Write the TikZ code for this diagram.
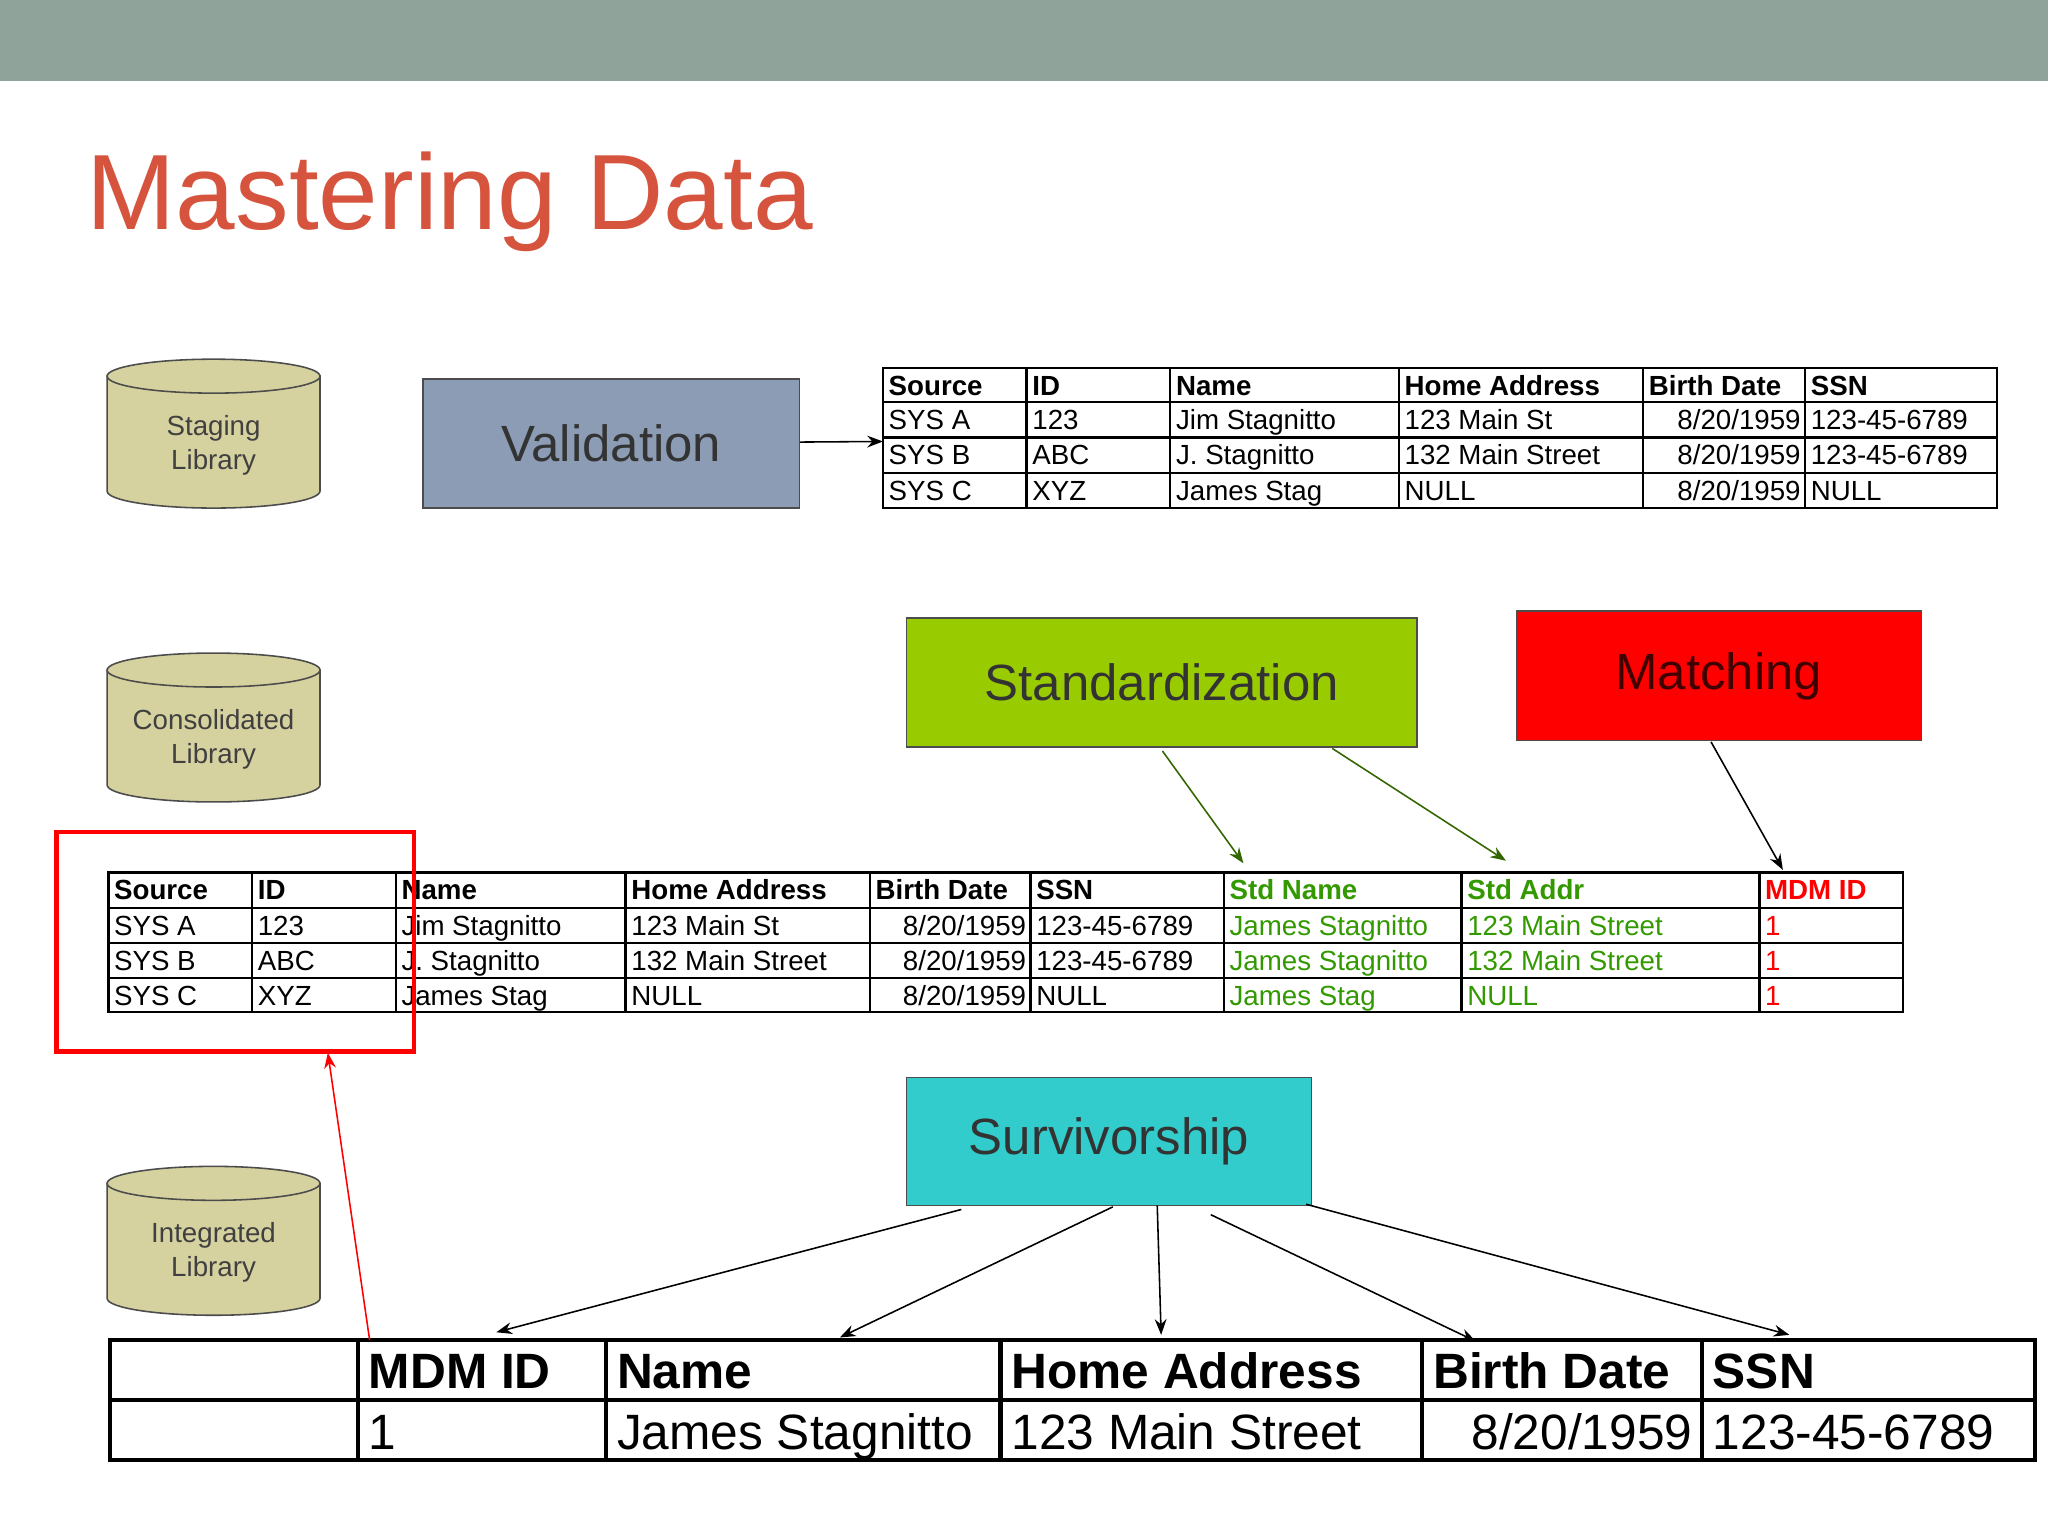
\documentclass[tikz,border=0pt]{standalone}
\usepackage{fontspec}
\setmainfont{Liberation Sans}
\usetikzlibrary{arrows.meta}
\definecolor{band}{RGB}{143,163,154}
\definecolor{titlered}{RGB}{214,84,62}
\definecolor{khaki}{RGB}{214,210,160}
\definecolor{slate}{RGB}{140,156,181}
\definecolor{lime}{RGB}{153,204,0}
\definecolor{aqua}{RGB}{51,204,204}
\definecolor{stdgreen}{RGB}{51,153,0}
\definecolor{arrgreen}{RGB}{51,102,0}
\tikzset{
  cell/.style={anchor=base west, inner sep=0pt, yshift=-4pt, font=\fontsize{10.6}{13}\selectfont},
  rcell/.style={anchor=base east, inner sep=0pt, yshift=-4pt, font=\fontsize{10.6}{13}\selectfont},
  big/.style={anchor=base west, inner sep=0pt, yshift=-7pt, font=\fontsize{19}{23}\selectfont},
  rbig/.style={anchor=base east, inner sep=0pt, yshift=-7pt, font=\fontsize{19}{23}\selectfont},
  procbox/.style={draw=black!70, line width=0.6pt, inner sep=0pt, font=\fontsize{19.5}{24}\selectfont},
  arr/.style={-{Stealth[length=6pt,width=4.5pt]}, line width=0.6pt},
  cyl/.style={draw=black!70, fill=khaki, line width=0.6pt}
}
\begin{document}
\begin{tikzpicture}[x=0.5pt,y=0.5pt,yscale=-1]
\useasboundingbox (0,0) rectangle (1568,1176);
\fill[white] (0,0) rectangle (1568,1176);
\fill[band] (0,0) rectangle (1568,62);
\node[anchor=base west, inner sep=0pt, text=titlered, font=\fontsize{41}{46}\selectfont] (title) at (66,176) {Mastering Data};

% cylinders
\foreach \t/\n/\lab in {288/stg/{Staging\\Library}, 513/con/{Consolidated\\Library}, 906/int/{Integrated\\Library}}{
  \filldraw[cyl] (82,\t) -- (82,\t+88) arc (180:0:81.5 and 13) -- (245,\t) -- cycle;
  \filldraw[cyl] (163.5,\t) ellipse (81.5 and 13);
  \node[align=center, text=black!75, font=\fontsize{10.6}{13}\selectfont] (\n) at (163.5,\t+53) {\lab};
}

% process boxes
\node[procbox, fill=slate, text=black!80, minimum width=144pt, minimum height=49.5pt] (val) at (468,339.5) {Validation};
\node[procbox, fill=lime, text=black!80, minimum width=195.5pt, minimum height=49.5pt] (std) at (889.5,522.5) {Standardization};
\node[procbox, fill=red, text=black!75!red, minimum width=155pt, minimum height=49.5pt] (mat) at (1316,517.5) {Matching};
\node[procbox, fill=aqua, text=black!80, minimum width=155pt, minimum height=49pt] (sur) at (849,874) {Survivorship};

% top table
\draw[line width=0.9pt] (676,282) rectangle (1529,389);
\foreach \y in {308,335,362} \draw[line width=0.9pt] (676,\y) -- (1529,\y);
\foreach \x in {786,896,1071,1258,1382} \draw[line width=0.9pt] (\x,282) -- (\x,389);
\foreach \x/\txt [count=\i] in {680/Source,790/ID,900/Name,1075/Home Address,1262/Birth Date,1386/SSN}
  \node[cell, font=\fontsize{10.6}{13}\selectfont\bfseries] (ta\i) at (\x,295) {\txt};
\foreach \y/\a/\b/\c/\d/\e [count=\r] in {321/SYS A/123/Jim Stagnitto/123 Main St/123-45-6789,
  348/SYS B/ABC/J. Stagnitto/132 Main Street/123-45-6789, 375/SYS C/XYZ/James Stag/NULL/NULL}{
  \node[cell] (tb\r a) at (680,\y) {\a};
  \node[cell] (tb\r b) at (790,\y) {\b};
  \node[cell] (tb\r c) at (900,\y) {\c};
  \node[cell] (tb\r d) at (1075,\y) {\d};
  \node[rcell] (tb\r e) at (1379,\y) {8/20/1959};
  \node[cell] (tb\r f) at (1386,\y) {\e};
}
\coordinate (vt) at (676,338);
\draw[arr] (val) -- (vt);

% middle table
\draw[line width=0.9pt] (83,668) rectangle (1457,775);
\foreach \y in {695,722,749} \draw[line width=0.9pt] (83,\y) -- (1457,\y);
\foreach \x in {193,303,479,666,789,937,1119,1347} \draw[line width=0.9pt] (\x,668) -- (\x,775);
\foreach \x/\txt [count=\i] in {87/Source,197/ID,307/Name,483/Home Address,670/Birth Date,793/SSN}
  \node[cell, font=\fontsize{10.6}{13}\selectfont\bfseries] (ma\i) at (\x,681) {\txt};
\node[cell, text=stdgreen, font=\fontsize{10.6}{13}\selectfont\bfseries] (ma7) at (941,681) {Std Name};
\node[cell, text=stdgreen, font=\fontsize{10.6}{13}\selectfont\bfseries] (ma8) at (1123,681) {Std Addr};
\node[cell, text=red, font=\fontsize{10.6}{13}\selectfont\bfseries] (ma9) at (1351,681) {MDM ID};
\foreach \y/\a/\b/\c/\d/\e/\f/\g [count=\r] in {708/SYS A/123/Jim Stagnitto/123 Main St/123-45-6789/James Stagnitto/123 Main Street,
  735/SYS B/ABC/J. Stagnitto/132 Main Street/123-45-6789/James Stagnitto/132 Main Street,
  762/SYS C/XYZ/James Stag/NULL/NULL/James Stag/NULL}{
  \node[cell] (mb\r a) at (87,\y) {\a};
  \node[cell] (mb\r b) at (197,\y) {\b};
  \node[cell] (mb\r c) at (307,\y) {\c};
  \node[cell] (mb\r d) at (483,\y) {\d};
  \node[rcell] (mb\r e) at (786,\y) {8/20/1959};
  \node[cell] (mb\r f) at (793,\y) {\e};
  \node[cell, text=stdgreen] (mb\r g) at (941,\y) {\f};
  \node[cell, text=stdgreen] (mb\r h) at (1123,\y) {\g};
  \node[cell, text=red] (mb\r i) at (1351,\y) {1};
}
\draw[red, line width=1.8pt] (43,637) rectangle (317,805);
\coordinate (rbox) at (251,806);
\coordinate (sn) at (952,661);
\coordinate (sa) at (1153,659);
\coordinate (mi) at (1365,666);
\draw[arr, arrgreen] (890,575) -- (sn);
\draw[arr, arrgreen] (1020,573) -- (sa);
\draw[arr] (1310,568) -- (mi);

% bottom table
\draw[line width=1.6pt] (84,1026) rectangle (1558,1118);
\draw[line width=1.6pt] (84,1072) -- (1558,1072);
\foreach \x in {274,464,766,1089,1303} \draw[line width=1.6pt] (\x,1026) -- (\x,1118);
\foreach \x/\txt [count=\i] in {282/MDM ID,472/Name,774/Home Address,1097/Birth Date,1311/SSN}
  \node[big, font=\fontsize{19}{23}\selectfont\bfseries] (ba\i) at (\x,1049) {\txt};
\node[big] (bb1) at (282,1096) {1};
\node[big] (bb2) at (472,1096) {James Stagnitto};
\node[big] (bb3) at (774,1096) {123 Main Street};
\node[rbig] (bb4) at (1296,1096) {8/20/1959};
\node[big] (bb5) at (1311,1096) {123-45-6789};
\coordinate (rs) at (283,1026);
\draw[arr, red] (rs) -- (rbox);
\coordinate (c1) at (380,1020);
\coordinate (c2) at (643,1024);
\coordinate (c3) at (889,1022);
\coordinate (c4) at (1130,1027);
\coordinate (c5) at (1370,1022);
\draw[arr] (736,926) -- (c1);
\draw[arr] (852,924) -- (c2);
\draw[arr] (886,923) -- (c3);
\draw[arr] (927,930) -- (c4);
\draw[arr] (1000,922) -- (c5);
\end{tikzpicture}
\end{document}
